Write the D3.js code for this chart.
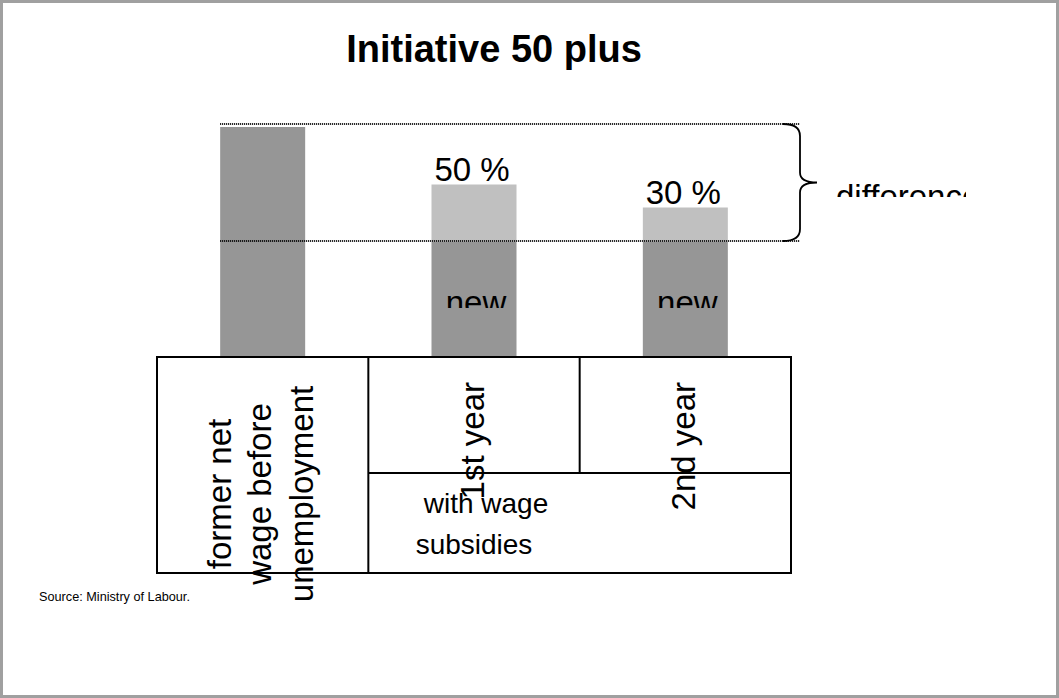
<!DOCTYPE html>
<html>
<head>
<meta charset="utf-8">
<script src="https://cdn.jsdelivr.net/npm/d3@7"></script>
<style>
  body { margin: 0; background: #fff; }
  svg text { font-family: "Liberation Sans", Arial, sans-serif; fill: #000; }
</style>
</head>
<body>
<svg id="chart" width="1059" height="698"></svg>
<script>
// Chart values
var categories = ["former", "year1", "year2"];
var baseWage = [100, 50, 50];          // dark part: former wage / new wage
var subsidy = [0, 25, 15];             // light part: wage subsidy
var shareLabels = ["", "50 %", "30 %"];
var rowLabels = ["1st year", "2nd year"];
var formerLines = ["former net", "wage before", "unemployment"];
var groupLines = ["with wage", "subsidies"];

var svg = d3.select("#chart");
var W = 1059, H = 698;

// Frame
svg.append("rect")
	.attr("x", 1.5).attr("y", 1.5)
	.attr("width", W - 3).attr("height", H - 3)
	.attr("fill", "#fff")
	.attr("stroke", "#a0a0a0")
	.attr("stroke-width", 3);

// Title
svg.append("text")
	.attr("x", 494).attr("y", 62)
	.attr("text-anchor", "middle")
	.style("font-size", "38px")
	.style("font-weight", "bold")
	.text("Initiative 50 plus");

// Scales
var tableTop = 357, tableMid = 473, tableBottom = 573;
var x = d3.scaleBand().domain(categories).range([157, 791]).padding(0);
var y = d3.scaleLinear().domain([0, 100]).range([tableTop, 127]);
var barW = 85;
var bx = (d) => x(d) + (x.bandwidth() - barW) / 2;

// Bars: dark part
svg.selectAll(".base")
	.data(categories)
	.enter()
	.append("rect")
	.attr("class", "base")
	.attr("x", (d) => bx(d))
	.attr("width", barW)
	.attr("y", (d, i) => y(baseWage[i]))
	.attr("height", (d, i) => y(0) - y(baseWage[i]))
	.attr("fill", "#969696");

// Bars: light part (subsidy)
svg.selectAll(".sub")
	.data(categories.filter((d, i) => subsidy[i] > 0))
	.enter()
	.append("rect")
	.attr("class", "sub")
	.attr("x", (d) => bx(d))
	.attr("width", barW)
	.attr("y", (d) => { let i = categories.indexOf(d); return y(baseWage[i] + subsidy[i]); })
	.attr("height", (d) => { let i = categories.indexOf(d); return y(baseWage[i]) - y(baseWage[i] + subsidy[i]); })
	.attr("fill", "#c0c0c0");

// Share labels
categories.forEach((d, i) => {
	if (!shareLabels[i]) return;
	svg.append("text")
		.attr("x", x(d) + x.bandwidth() / 2 - 2)
		.attr("y", y(baseWage[i] + subsidy[i]) - 4)
		.attr("text-anchor", "middle")
		.style("font-size", "33px")
		.text(shareLabels[i]);
});

// Dotted reference lines
var lineTop = y(baseWage[0]) - 3, lineBot = y(baseWage[1]) - 1;
[lineTop, lineBot].forEach((ly) => {
	svg.append("line")
		.attr("x1", bx(categories[0])).attr("x2", 800)
		.attr("y1", ly).attr("y2", ly)
		.attr("stroke", "#000")
		.attr("stroke-width", 2)
		.attr("stroke-dasharray", "1,1");
});

// Brace
var bMid = (lineTop + lineBot) / 2;
var brace = d3.path();
brace.moveTo(783, lineTop);
brace.quadraticCurveTo(800, lineTop, 800, lineTop + 12);
brace.lineTo(800, bMid - 10);
brace.quadraticCurveTo(800, bMid, 817, bMid);
brace.quadraticCurveTo(800, bMid, 800, bMid + 10);
brace.lineTo(800, lineBot - 12);
brace.quadraticCurveTo(800, lineBot, 783, lineBot);
svg.append("path")
	.attr("d", brace.toString())
	.attr("fill", "none")
	.attr("stroke", "#000")
	.attr("stroke-width", 1.8);

// Clipped labels ("difference", "new")
var defs = svg.append("defs");
defs.append("clipPath").attr("id", "clipDiff")
	.append("rect").attr("x", 830).attr("y", 160).attr("width", 136).attr("height", 37);
svg.append("text")
	.attr("x", 836).attr("y", 208)
	.attr("clip-path", "url(#clipDiff)")
	.style("font-size", "33px")
	.text("difference");

categories.slice(1).forEach((d, i) => {
	defs.append("clipPath").attr("id", "clipNew" + i)
		.append("rect").attr("x", bx(d)).attr("y", 270).attr("width", barW).attr("height", 38);
	svg.append("text")
		.attr("x", x(d) + x.bandwidth() / 2 + 2)
		.attr("y", 314)
		.attr("text-anchor", "middle")
		.attr("clip-path", "url(#clipNew" + i + ")")
		.style("font-size", "33px")
		.text("new");
});

// Table grid
var grid = svg.append("g")
	.attr("stroke", "#000")
	.attr("stroke-width", 2)
	.attr("fill", "none");
grid.append("rect")
	.attr("x", x.range()[0]).attr("y", tableTop)
	.attr("width", x.range()[1] - x.range()[0])
	.attr("height", tableBottom - tableTop);
grid.append("line")
	.attr("x1", x(categories[1])).attr("x2", x(categories[1]))
	.attr("y1", tableTop).attr("y2", tableBottom);
grid.append("line")
	.attr("x1", x(categories[2])).attr("x2", x(categories[2]))
	.attr("y1", tableTop).attr("y2", tableMid);
grid.append("line")
	.attr("x1", x(categories[1])).attr("x2", x.range()[1])
	.attr("y1", tableMid).attr("y2", tableMid);

// Rotated category labels
var formerX = [231, 271, 313];
formerLines.forEach((t, i) => {
	svg.append("text")
		.attr("transform", "translate(" + formerX[i] + ",494) rotate(-90)")
		.attr("text-anchor", "middle")
		.style("font-size", "33px")
		.text(t);
});

rowLabels.forEach((t, i) => {
	let cx = x(categories[i + 1]) + x.bandwidth() / 2;
	svg.append("text")
		.attr("transform", "translate(" + (cx + 10) + ",382) rotate(-90)")
		.attr("text-anchor", "end")
		.style("font-size", "33px")
		.text(t);
});

// Merged cell label
var groupX = [486, 474], groupY = [513, 554];
groupLines.forEach((t, i) => {
	svg.append("text")
		.attr("x", groupX[i]).attr("y", groupY[i])
		.attr("text-anchor", "middle")
		.style("font-size", "28px")
		.text(t);
});

// Source
svg.append("text")
	.attr("x", 39).attr("y", 601)
	.style("font-size", "12.7px")
	.text("Source: Ministry of Labour.");
</script>
</body>
</html>
